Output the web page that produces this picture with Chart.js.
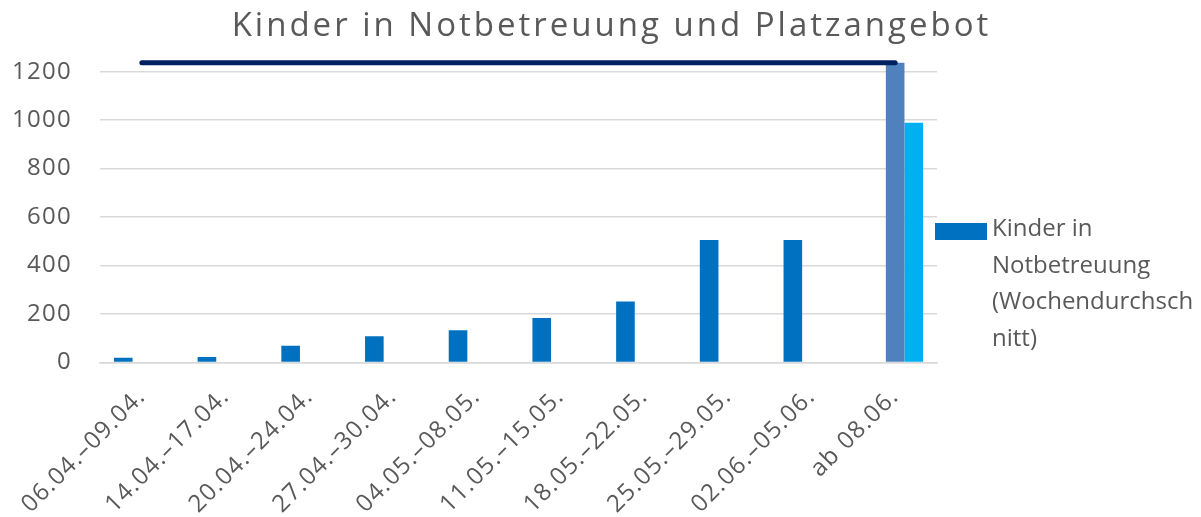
<!DOCTYPE html>
<html>
<head>
<meta charset="utf-8">
<script src="https://cdn.jsdelivr.net/npm/chart.js@4"></script>
<style>
  body { margin: 0; background: #fff; }
  #wrap { position: relative; width: 1201px; height: 517px; font-family: "Open Sans", sans-serif; color: #595959; }
  #chart { position: absolute; left: 0; top: 0; }
  #title { position: absolute; left: 0; top: 7px; width: 1223px; text-align: center; font-size: 33px; line-height: 33px; letter-spacing: 3px; }
  #legend { position: absolute; left: 935px; top: 209px; font-size: 24px; line-height: 36.7px; }
  #legend .box { position: absolute; left: 0; top: 14px; width: 52px; height: 17px; background: #0070C0; }
  #legend .txt { margin-left: 57px; white-space: nowrap; }
</style>
</head>
<body>
<div id="wrap">
  <canvas id="chart" width="1201" height="517"></canvas>
  <div id="title">Kinder in Notbetreuung und Platzangebot</div>
  <div id="legend"><span class="box"></span><div class="txt">Kinder in<br>Notbetreuung<br>(Wochendurchsch<br>nitt)</div></div>
</div>
<script>
// Kinder in Notbetreuung und Platzangebot

const labels = ["06.04.–09.04.", "14.04.–17.04.", "20.04.–24.04.", "27.04.–30.04.", "04.05.–08.05.",
  "11.05.–15.05.", "18.05.–22.05.", "25.05.–29.05.", "02.06.–05.06.", "ab 08.06."];

// weekly averages of children in emergency care
const kinder = [20, 23, 69, 108, 133, 184, 252, 505, 505, null];
// places offered (bar only in last week)
const platzBar = [null, null, null, null, null, null, null, null, null, 1237];
const angemeldet = [null, null, null, null, null, null, null, null, null, 989];
// places offered as line
const platzLinie = [1237, 1237, 1237, 1237, 1237, 1237, 1237, 1237, 1237, 1237];

const yTicks = [0, 200, 400, 600, 800, 1000, 1200];

const textColor = "#595959";
const tickFont = { family: "Open Sans", size: 24 };

// a bit of tracking on the axis labels
const spacingPlugin = {
  id: 'spacingPlugin',
  beforeDraw(chart) {
    chart.ctx.letterSpacing = "1.3px";
  }
};

const ctx = document.getElementById("chart").getContext("2d");

new Chart(ctx, {
  data: {
    labels: labels,
    datasets: [
      {
        type: "line",
        label: "Platzangebot",
        data: platzLinie,
        borderColor: "#002060",
        borderWidth: 5,
        borderCapStyle: "round",
        pointRadius: 0,
        clip: false,
        order: 0
      },
      {
        type: "bar",
        label: "Kinder in Notbetreuung (Wochendurchschnitt)",
        data: kinder,
        backgroundColor: "#0070C0",
        order: 1
      },
      {
        type: "bar",
        label: "Platzangebot ab 08.06.",
        data: platzBar,
        backgroundColor: "#4F81BD",
        order: 1
      },
      {
        type: "bar",
        label: "angemeldet",
        data: angemeldet,
        backgroundColor: "#00B0F0",
        order: 1
      }
    ]
  },
  plugins: [spacingPlugin],
  options: {
    responsive: false,
    animation: false,
    layout: {
      padding: { top: 62, right: 264, left: 0, bottom: 0 }
    },
    datasets: {
      bar: {
        categoryPercentage: 0.667,
        barPercentage: 1
      }
    },
    plugins: {
      legend: { display: false },
      title: { display: false },
      tooltip: { enabled: false }
    },
    scales: {
      x: {
        grid: { display: false, drawTicks: false },
        border: { color: "#D9D9D9", width: 1.5 },
        ticks: {
          color: textColor,
          font: tickFont,
          minRotation: 45,
          maxRotation: 45,
          autoSkip: false,
          padding: 20
        },
        afterFit(scale) {
          scale.height = 154.5;
        }
      },
      y: {
        min: 0,
        max: 1240,
        grid: { color: "#D9D9D9", lineWidth: 1.5, drawTicks: false },
        border: { display: false },
        ticks: {
          color: textColor,
          font: tickFont,
          padding: 28,
          callback: (v) => String(v)
        },
        afterBuildTicks(axis) {
          axis.ticks = yTicks.map(v => ({ value: v }));
        },
        afterFit(scale) {
          scale.width = 100;
        }
      }
    }
  }
});
</script>
</body>
</html>
